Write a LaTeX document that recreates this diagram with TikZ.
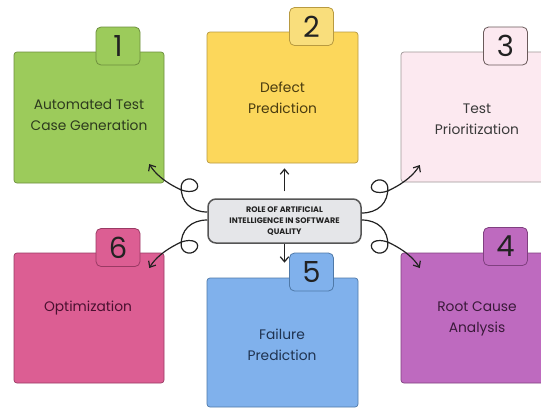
\documentclass[tikz,border=0pt]{standalone}
\usepackage{fontspec}
\setmainfont{Poppins}
\usetikzlibrary{arrows.meta}
\definecolor{gfill}{HTML}{9CCB5B}\definecolor{gdraw}{HTML}{6E8F3E}\definecolor{gtext}{HTML}{2D3A1E}
\definecolor{yfill}{HTML}{FCD75B}\definecolor{ytab}{HTML}{F9DE7C}\definecolor{ydraw}{HTML}{B89A40}\definecolor{ytext}{HTML}{4A3C10}
\definecolor{lpfill}{HTML}{FCE9F0}\definecolor{lpdraw}{HTML}{A09898}\definecolor{lptab}{HTML}{6A5A5A}\definecolor{lptext}{HTML}{3A3A3A}
\definecolor{pfill}{HTML}{DC5E93}\definecolor{pdraw}{HTML}{9A3A64}\definecolor{ptext}{HTML}{4A1030}
\definecolor{bfill}{HTML}{80B1EC}\definecolor{bdraw}{HTML}{4F79A8}\definecolor{btext}{HTML}{1F3350}
\definecolor{vfill}{HTML}{BE6ABF}\definecolor{vdraw}{HTML}{804080}\definecolor{vtext}{HTML}{3A1A3A}
\definecolor{cfill}{HTML}{E5E6E9}\definecolor{cdraw}{HTML}{555555}
\definecolor{ink}{HTML}{222222}
\tikzset{
  boxstyle/.style={rectangle, rounded corners=3pt, line width=0.7pt, inner sep=0pt},
  tabstyle/.style={rectangle, rounded corners=5pt, line width=0.8pt, inner sep=0pt,
    minimum width=44pt, minimum height=38pt, text=ink, font=\fontsize{29}{29}\selectfont},
  boxtext/.style={align=center, font=\fontsize{13.8}{21}\selectfont},
  arr/.style={draw=ink, line width=1.2pt, -{Straight Barb[length=5pt,width=8.5pt]}},
}
\newcommand\mycurl{%
  \draw[arr] (0,0) .. controls (16,0) and (27,-10) .. (26,-26)
    .. controls (25,-34) and (14,-36) .. (10,-28)
    .. controls (7,-20) and (20,-18) .. (30,-24)
    .. controls (42,-30) and (52,-38) .. (58,-48);}
\begin{document}
\begin{tikzpicture}[x=1pt,y=-1pt]
\useasboundingbox (0,0) rectangle (541,408);
\fill[white] (0,0) rectangle (541,408);
% boxes
\node[boxstyle, fill=gfill, draw=gdraw, minimum width=150pt, minimum height=131pt] (b1) at (89,117.5) {};
\node[boxstyle, fill=yfill, draw=ydraw, minimum width=151pt, minimum height=131pt] (b2) at (282.5,97.5) {};
\node[boxstyle, fill=lpfill, draw=lpdraw, minimum width=152pt, minimum height=130pt] (b3) at (477,117) {};
\node[boxstyle, fill=pfill, draw=pdraw, minimum width=150pt, minimum height=130pt] (b6) at (89,318) {};
\node[boxstyle, fill=bfill, draw=bdraw, minimum width=151pt, minimum height=129pt] (b5) at (282.5,342.5) {};
\node[boxstyle, fill=vfill, draw=vdraw, minimum width=152pt, minimum height=130pt] (b4) at (477,318) {};
% tabs
\node[tabstyle, fill=gfill, draw=gdraw] (n1) at (118,46) {1};
\node[tabstyle, fill=ytab, draw=ydraw] (n2) at (311.5,26.5) {2};
\node[tabstyle, fill=lpfill, draw=lptab] (n3) at (505.5,46) {3};
\node[tabstyle, fill=pfill, draw=pdraw] (n6) at (118,247.5) {6};
\node[tabstyle, fill=bfill, draw=bdraw] (n5) at (311.5,272) {5};
\node[tabstyle, fill=vfill, draw=vdraw] (n4) at (505.5,246.5) {4};
% texts
\node[boxtext, text=gtext] (t1) at (89,115) {Automated Test\\Case Generation};
\node[boxtext, text=ytext] (t2) at (282.5,98) {Defect\\Prediction};
\node[boxtext, text=lptext] (t3) at (477,119) {Test\\Prioritization};
\node[boxtext, text=ptext] (t6) at (88,308) {Optimization};
\node[boxtext, text=btext] (t5) at (282,345) {Failure\\Prediction};
\node[boxtext, text=vtext] (t4) at (477,319) {Root Cause\\Analysis};
% center
\node[rectangle, rounded corners=8pt, fill=cfill, draw=cdraw, line width=1.5pt,
  minimum width=153pt, minimum height=44pt, align=center, text=ink,
  font=\bfseries\fontsize{8}{11}\selectfont] (c) at (284.5,221)
  {ROLE OF ARTIFICIAL\\INTELLIGENCE IN SOFTWARE\\QUALITY};
% straight arrows
\draw[arr] ([yshift=7pt]c.north) -- ([yshift=-5pt]c.north |- b2.south);
\draw[arr] (c.south) -- ([yshift=15pt]c.south |- b5.north);
% curls
\begin{scope}[shift={([yshift=8pt]c.east)}]\mycurl\end{scope}
\begin{scope}[shift={([yshift=1pt]c.east)}, yscale=-1]\mycurl\end{scope}
\begin{scope}[shift={([yshift=9pt]c.west)}, xscale=-1]\mycurl\end{scope}
\begin{scope}[shift={([yshift=1pt]c.west)}, xscale=-1, yscale=-1]\mycurl\end{scope}
\end{tikzpicture}
\end{document}
